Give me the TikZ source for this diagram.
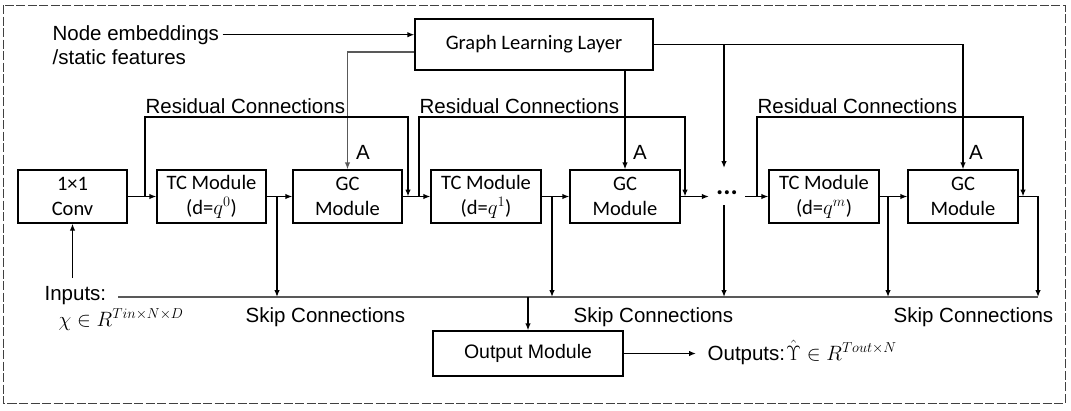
\documentclass[tikz,border=0pt]{standalone}
\usepackage{fontspec}
\setmainfont{Liberation Sans}
\newfontfamily\calib{Carlito}
\usetikzlibrary{arrows.meta,calc}
\begin{document}
\begin{tikzpicture}[x=1pt,y=-1pt,
  line width=1.3pt,
  arr/.style={-{Latex[length=7pt,width=5.5pt]}},
  box/.style={draw,line width=1.3pt,minimum width=109pt,minimum height=53pt,inner sep=0pt,align=center,font=\calib\fontsize{20.5}{25}\selectfont},
  lbl/.style={inner sep=0pt,font=\fontsize{20.5}{25}\selectfont},
  gline/.style={draw=black!65}
]
\useasboundingbox (0,0) rectangle (1071,410);
\draw[dash pattern=on 9pt off 2.5pt, line width=0.9pt, black!75] (3,5) rectangle (1065,403);

% boxes
\node[box,minimum width=238pt,minimum height=51pt] (gll) at (534,44.5) {Graph Learning Layer};
\node[box] (conv) at (72.5,196.5) {1×1\\Conv};
\node[box] (tc0) at (211.5,196.5) {TC Module\\(d=$q^{0}$)};
\node[box] (gc1) at (347.5,196.5) {GC\\Module};
\node[box,minimum width=110pt] (tc1) at (486,196.5) {TC Module\\(d=$q^{1}$)};
\node[box,minimum width=110pt] (gc2) at (625,196.5) {GC\\Module};
\node[box,minimum width=110pt] (tcm) at (824,196.5) {TC Module\\(d=$q^{m}$)};
\node[box,minimum width=110pt] (gcm) at (963,196.5) {GC\\Module};
\node[box,minimum width=190pt,minimum height=45pt,font=\fontsize{19.5}{22}\selectfont] (out) at (528,353.5) {Output Module};
\node[inner sep=0pt,minimum width=35pt,font=\calib\bfseries\fontsize{27}{30}\selectfont] (dots) at (727,193) {...};

% labels
\node[lbl,anchor=base west] (ne1) at (52,40) {Node embeddings};
\node[lbl,anchor=base west] (ne2) at (52,64) {/static features};
\node[lbl,anchor=base west] (rc1) at (145,113) {Residual Connections};
\node[lbl,anchor=base west] (rc2) at (419,113) {Residual Connections};
\node[lbl,anchor=base west] (rc3) at (757,113) {Residual Connections};
\node[lbl] (a1) at (363,152) {A};
\node[lbl] (a2) at (640,152) {A};
\node[lbl] (a3) at (976,152) {A};
\node[lbl,anchor=base west] (sc1) at (245,322) {Skip Connections};
\node[lbl,anchor=base west] (sc2) at (573,322) {Skip Connections};
\node[lbl,anchor=base west] (sc3) at (893,322) {Skip Connections};
\node[lbl,anchor=base west] (inl) at (44,300) {Inputs:};
\node[lbl,anchor=base west] (inm) at (58,326) {$\chi\in R^{Tin\times N\times D}$};
\node[lbl,anchor=base west] (outl) at (707,360) {Outputs:\kern1pt$\hat{\Upsilon}\in R^{Tout\times N}$};

% coordinates
\coordinate (top) at (0,117);
\coordinate (sk) at (0,297);
\coordinate (skL) at (118,297);
\coordinate (skR) at (1038,297);
\coordinate (r1s) at (145,196.5); \coordinate (r1e) at (408,196.5);
\coordinate (r2s) at (419,196.5); \coordinate (r2e) at (685,196.5);
\coordinate (r3s) at (757,196.5); \coordinate (r3e) at (1023,196.5);
\coordinate (t0) at (277,196.5);
\coordinate (t1) at (552,196.5);
\coordinate (tm) at (888,196.5);
\coordinate (dt) at (724,168);
\coordinate (db) at (724,205);
\coordinate (inp) at (72.5,278);

% graph learning connections
\draw[arr] ([xshift=3pt]ne1.east) -- (ne1.east -| gll.west);
\draw[arr,gline] ([yshift=-7.5pt]gll.west) -| (gc1.north);
\draw[arr] (gll.south -| gc2.north) -- (gc2.north);
\draw[arr] (gll.east) -| (gcm.north);
\draw[arr] (gll.east -| dt) -- (dt);

% main chain
\draw[arr] (inp) -- (conv.south);
\draw[arr] (conv) -- (tc0);
\draw[arr] (tc0) -- (gc1);
\draw[arr] (gc1) -- (tc1);
\draw[arr] (tc1) -- (gc2);
\draw[arr] (gc2.east) -- (gc2.east -| dots.west);
\draw[arr] (dots.east |- tcm.west) -- (tcm.west);
\draw[arr] (tcm) -- (gcm);
\draw[arr] (gcm.east) -| (skR);

% residual connections
\draw[arr] (r1s) -- (r1s |- top) -| (r1e);
\draw[arr] (r2s) -- (r2s |- top) -| (r2e);
\draw[arr] (r3s) -- (r3s |- top) -| (r3e);

% skip connections
\draw[gline] (skL) -- (skR);
\draw[arr] (t0) -- (t0 |- sk);
\draw[arr] (t1) -- (t1 |- sk);
\draw[arr] (db) -- (db |- sk);
\draw[arr] (tm) -- (tm |- sk);
\draw[arr] (out.north |- sk) -- (out.north);
\draw[arr] (out.east) -- ([xshift=-11pt]outl.west |- out.east);
\end{tikzpicture}
\end{document}
